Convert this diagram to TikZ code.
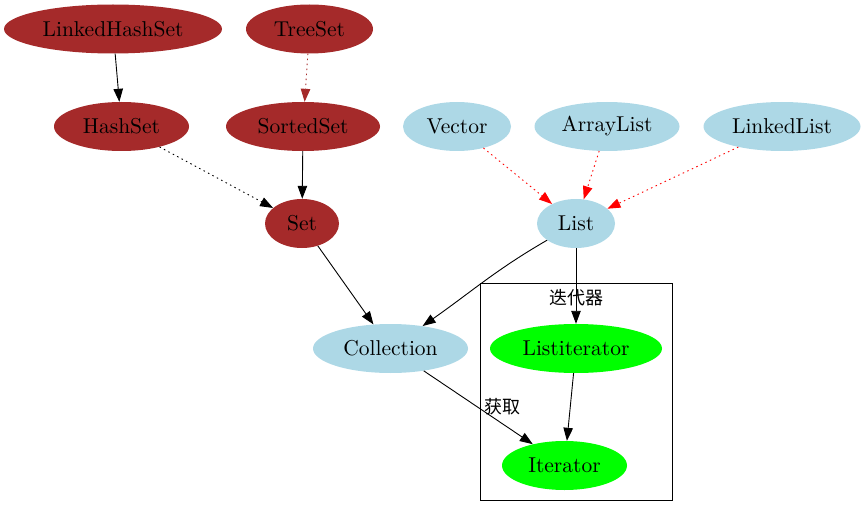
\documentclass[tikz,border=0pt]{standalone}
\usepackage{fontspec}
\setmainfont{lmroman10-regular.otf}
\newfontfamily\cjk{Noto Sans CJK SC}
\usepackage{xcolor}
\usetikzlibrary{shapes.geometric,arrows.meta,positioning}
\definecolor{setbrown}{HTML}{A52A2A}
\definecolor{listblue}{HTML}{ADD8E6}
\definecolor{itergreen}{HTML}{00FF00}

\begin{document}
\begin{tikzpicture}[
    x=1pt, y=-1pt,
    base/.style={ellipse, inner sep=0pt, minimum height=49pt, font=\fontsize{21.5}{25}\selectfont},
    setclass/.style={base, fill=setbrown},
    listclass/.style={base, fill=listblue},
    iterclass/.style={base, fill=itergreen},
    line/.style={draw, line width=0.9pt, -{Triangle[length=13pt, width=9.5pt]}},
    impl/.style={line, dash pattern=on 1.5pt off 3.5pt},
    cjklabel/.style={font=\cjk\fontsize{18}{22}\selectfont, inner sep=1pt}
]
    \useasboundingbox (0,0) rectangle (868,516);

    % Iterator cluster
    \node [draw, line width=0.9pt, minimum width=192pt, minimum height=217pt, inner sep=0pt] (iterbox) at (576,391.5) {};
    \node [cjklabel] (iterlbl) at (576,298) {迭代器};

    % Sets
    \node [setclass, minimum width=218pt] (lhs) at (113,29) {LinkedHashSet};
    \node [setclass, minimum width=127pt] (treeset) at (309.5,29) {TreeSet};
    \node [setclass, minimum width=135pt] (hashset) at (121.5,126.5) {HashSet};
    \node [setclass, minimum width=154pt] (sortedset) at (303,126.5) {SortedSet};
    \node [setclass, minimum width=74pt] (set) at (302,223.5) {Set};

    % Lists
    \node [listclass, minimum width=108pt] (vector) at (457,126.5) {Vector};
    \node [listclass, minimum width=145pt] (arraylist) at (607,126.5) {ArrayList};
    \node [listclass, minimum width=157pt] (linkedlist) at (782,126.5) {LinkedList};
    \node [listclass, minimum width=78pt] (list) at (576,223.5) {List};
    \node [listclass, minimum width=155pt] (coll) at (390.5,348.5) {Collection};

    % Iterators
    \node [iterclass, minimum width=172pt] (listit) at (576,348.5) {Listiterator};
    \node [iterclass, minimum width=125pt] (iter) at (564.5,465.5) {Iterator};

    % Set edges
    \path [line] (lhs) -- (hashset);
    \path [impl, setbrown] (treeset) -- (sortedset);
    \path [impl] (hashset) -- (set);
    \path [line] (sortedset) -- (set);

    % List edges
    \path [impl, red] (vector) -- (list);
    \path [impl, red] (arraylist) -- (list);
    \path [impl, red] (linkedlist) -- (list);

    % To Collection / Iterator
    \path [line] (set) -- (coll);
    \path [line] (list) to[out=210, in=35] (coll);
    \path [line] (list) -- (listit);
    \path [line] (coll) -- node [cjklabel, pos=0.72, above=7pt] (getlbl) {获取} (iter);
    \path [line] (listit) -- (iter);

\end{tikzpicture}
\end{document}
